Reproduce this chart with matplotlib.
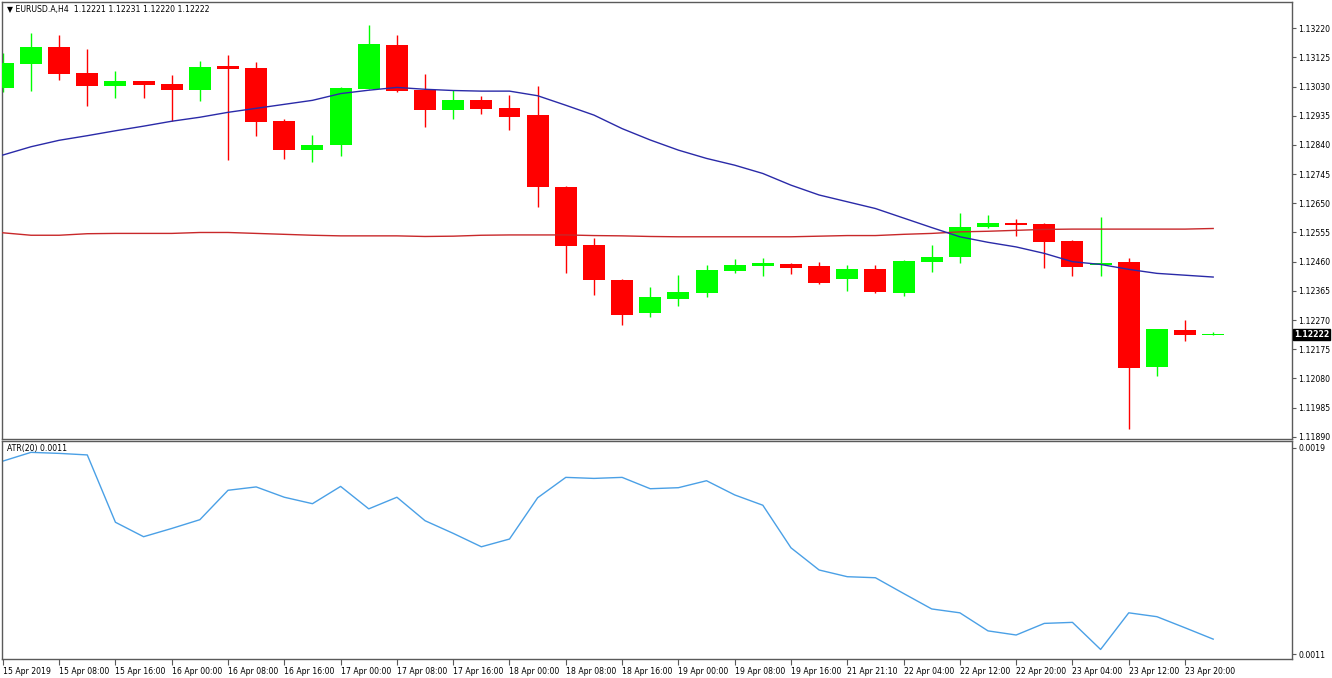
import matplotlib
matplotlib.use("Agg")
from matplotlib import pyplot as plt
from matplotlib import transforms
import numpy as np

# EURUSD H4 bars, 15 Apr 2019 00:00 .. 24 Apr 00:00
opens = [1.13024, 1.13103, 1.13157, 1.13074, 1.13031, 1.13048, 1.13037, 1.13019, 1.13096, 1.13089,
         1.12918, 1.12824, 1.12839, 1.13022, 1.13165, 1.13019, 1.12954, 1.12987, 1.12959, 1.12937,
         1.12704, 1.12513, 1.12400, 1.12292, 1.12340, 1.12359, 1.12429, 1.12447, 1.12453, 1.12446,
         1.12403, 1.12437, 1.12359, 1.12458, 1.12476, 1.12573, 1.12585, 1.12581, 1.12526, 1.12449,
         1.12458, 1.12118, 1.12237, 1.12221]
highs = [1.13139, 1.13203, 1.13197, 1.13152, 1.13082, 1.13049, 1.13067, 1.13114, 1.13134, 1.13110,
         1.12924, 1.12872, 1.13028, 1.13231, 1.13197, 1.13070, 1.13019, 1.12999, 1.13002, 1.13032,
         1.12706, 1.12536, 1.12403, 1.12378, 1.12416, 1.12449, 1.12468, 1.12471, 1.12455, 1.12460,
         1.12449, 1.12449, 1.12465, 1.12514, 1.12618, 1.12612, 1.12599, 1.12586, 1.12529, 1.12606,
         1.12471, 1.12242, 1.12270, 1.12231]
lows = [1.13011, 1.13016, 1.13052, 1.12968, 1.12991, 1.12991, 1.12917, 1.12982, 1.12790, 1.12868,
        1.12794, 1.12783, 1.12804, 1.13021, 1.13012, 1.12899, 1.12923, 1.12941, 1.12888, 1.12639,
        1.12424, 1.12353, 1.12254, 1.12281, 1.12316, 1.12344, 1.12424, 1.12414, 1.12419, 1.12387,
        1.12364, 1.12358, 1.12349, 1.12427, 1.12456, 1.12568, 1.12543, 1.12438, 1.12413, 1.12413,
        1.11917, 1.12089, 1.12203, 1.12220]
closes = [1.13105, 1.13159, 1.13071, 1.13031, 1.13048, 1.13035, 1.13019, 1.13094, 1.13086, 1.12915,
          1.12822, 1.12839, 1.13025, 1.13168, 1.13014, 1.12954, 1.12987, 1.12956, 1.12931, 1.12702,
          1.12511, 1.12400, 1.12288, 1.12346, 1.12361, 1.12433, 1.12449, 1.12455, 1.12441, 1.12389,
          1.12437, 1.12361, 1.12463, 1.12476, 1.12572, 1.12585, 1.12579, 1.12525, 1.12443, 1.12456,
          1.12115, 1.12241, 1.12220, 1.12222]

ma_fast = [1.12807, 1.12834, 1.12855, 1.12870, 1.12886, 1.12901, 1.12917, 1.12930, 1.12946, 1.12959,
           1.12972, 1.12985, 1.13007, 1.13018, 1.13027, 1.13021, 1.13017, 1.13015, 1.13015, 1.13000,
           1.12969, 1.12937, 1.12893, 1.12856, 1.12823, 1.12796, 1.12774, 1.12747, 1.12709, 1.12677,
           1.12655, 1.12633, 1.12602, 1.12571, 1.12541, 1.12523, 1.12508, 1.12487, 1.12460, 1.12451,
           1.12435, 1.12422, 1.12416, 1.12410]
ma_slow = [1.12554, 1.12546, 1.12546, 1.12551, 1.12552, 1.12552, 1.12552, 1.12555, 1.12555, 1.12552,
           1.12549, 1.12546, 1.12544, 1.12544, 1.12544, 1.12542, 1.12543, 1.12546, 1.12547, 1.12547,
           1.12547, 1.12545, 1.12544, 1.12542, 1.12541, 1.12541, 1.12541, 1.12541, 1.12541, 1.12543,
           1.12545, 1.12545, 1.12549, 1.12552, 1.12557, 1.12559, 1.12562, 1.12565, 1.12566, 1.12566,
           1.12566, 1.12566, 1.12566, 1.12568]
atr = [0.001848, 0.001882, 0.001878, 0.001872, 0.001611, 0.001555, 0.001587, 0.001621, 0.001735, 0.001748,
       0.001708, 0.001683, 0.001750, 0.001663, 0.001708, 0.001617, 0.001568, 0.001516, 0.001546, 0.001706,
       0.001785, 0.001781, 0.001785, 0.001741, 0.001745, 0.001772, 0.001717, 0.001677, 0.001512, 0.001426,
       0.001400, 0.001396, 0.001335, 0.001275, 0.001260, 0.001190, 0.001174, 0.001219, 0.001223, 0.001118,
       0.001260, 0.001245, 0.001202, 0.001158]

time_labels = ["15 Apr 2019", "15 Apr 08:00", "15 Apr 16:00", "16 Apr 00:00", "16 Apr 08:00",
               "16 Apr 16:00", "17 Apr 00:00", "17 Apr 08:00", "17 Apr 16:00", "18 Apr 00:00",
               "18 Apr 08:00", "18 Apr 16:00", "19 Apr 00:00", "19 Apr 08:00", "19 Apr 16:00",
               "21 Apr 21:10", "22 Apr 04:00", "22 Apr 12:00", "22 Apr 20:00", "23 Apr 04:00",
               "23 Apr 12:00", "23 Apr 20:00"]
price_ticks = [1.13220, 1.13125, 1.13030, 1.12935, 1.12840, 1.12745, 1.12650, 1.12555,
               1.12460, 1.12365, 1.12270, 1.12175, 1.12080, 1.11985, 1.11890]
atr_ticks = [0.0019, 0.0011]

FS = 5.6
FRAME = "#5a5a5a"
plt.rcParams["font.family"] = ["DejaVu Sans"]

fig = plt.figure(figsize=(13.32, 6.78), dpi=100)
ax = fig.add_axes([2 / 1332, 1 - 439 / 678, 1290 / 1332, 437 / 678])
ax2 = fig.add_axes([2 / 1332, 1 - 659 / 678, 1290 / 1332, 218 / 678])

x = np.arange(len(opens))
o = np.array(opens)
c = np.array(closes)
up = c >= o
colors = np.where(up, "#00ff00", "#ff0000")

# candles
ax.vlines(x, lows, highs, colors=colors, linewidth=1, zorder=2)
body_lo = np.minimum(o, c)
body_h = np.maximum(np.abs(c - o), 0.00004)
ax.bar(x, body_h, bottom=body_lo, width=0.78, color=colors, linewidth=0, zorder=3)

# moving averages
ax.plot(x, ma_slow, color="#c8282a", linewidth=1, zorder=4)
ax.plot(x, ma_fast, color="#2a2aa8", linewidth=1, zorder=4)

ax.set_xlim(-0.03, 45.8)
ax.set_ylim(1.11883, 1.13305)
ax.yaxis.tick_right()
ax.set_yticks(price_ticks)
ax.set_yticklabels([f"{p:.5f}" for p in price_ticks])
ax.tick_params(axis="y", direction="out", length=3, width=0.8, color=FRAME,
               labelsize=FS, pad=1.5)
ax.set_xticks([])
for s in ax.spines.values():
    s.set_color(FRAME)
    s.set_linewidth(1)

# current price marker
trans = transforms.blended_transform_factory(ax.transAxes, ax.transData)
ax.text(1.0015, closes[-1], f"{closes[-1]:.5f}", transform=trans, ha="left", va="center",
        fontsize=FS, color="white", fontweight="bold",
        bbox=dict(boxstyle="square,pad=0.15", facecolor="black", edgecolor="black"))

ax.text(0.004, 0.982, "\u25bc EURUSD.A,H4  1.12221 1.12231 1.12220 1.12222",
        transform=ax.transAxes, fontsize=FS, va="center", ha="left", color="black")

# ATR panel
ax2.plot(x, atr, color="#4aa0e6", linewidth=1)
ax2.set_xlim(-0.03, 45.8)
ax2.set_ylim(0.001081, 0.001926)
ax2.yaxis.tick_right()
ax2.set_yticks(atr_ticks)
ax2.set_yticklabels([f"{v:.4f}" for v in atr_ticks])
ax2.tick_params(axis="y", direction="out", length=3, width=0.8, color=FRAME,
                labelsize=FS, pad=1.5)
ax2.set_xticks(x[::2])
ax2.set_xticklabels(time_labels, ha="left")
ax2.tick_params(axis="x", direction="out", length=4, width=0.8, color=FRAME,
                labelsize=FS, pad=1.5)
for s in ax2.spines.values():
    s.set_color(FRAME)
    s.set_linewidth(1)
ax2.text(0.004, 0.965, "ATR(20) 0.0011", transform=ax2.transAxes, fontsize=FS,
         va="center", ha="left", color="black")

fig.savefig("out.png", dpi=100, facecolor="white")
